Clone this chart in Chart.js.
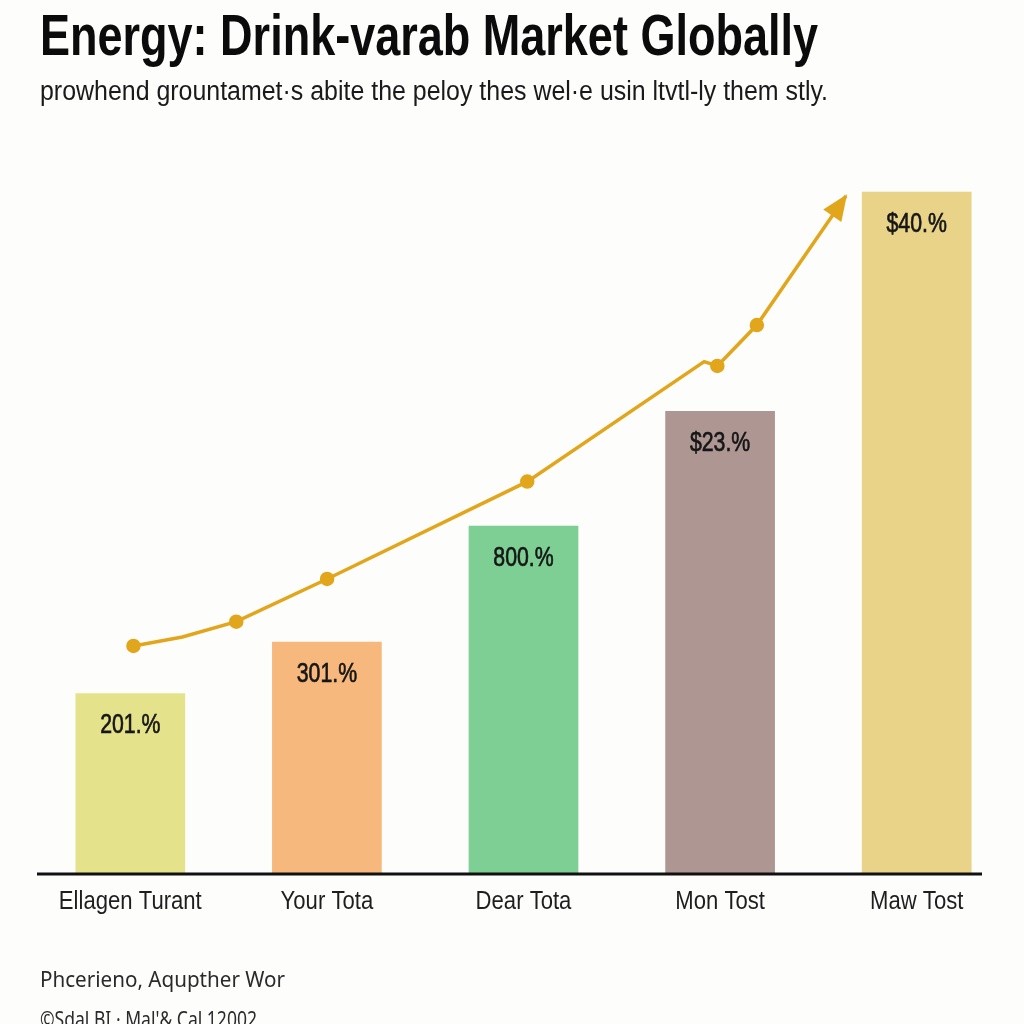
<!DOCTYPE html>
<html><head><meta charset="utf-8">
<script src="https://cdn.jsdelivr.net/npm/chart.js@4.4.1/dist/chart.umd.min.js"></script>
<style>html,body{margin:0;padding:0;background:#fdfdfc}#wrap{width:1024px;height:1024px}</style>
</head><body><div id="wrap"><canvas id="c" width="1024" height="1024"></canvas></div>
<script>
const titleText = 'Energy: Drink-varab Market Globally';
const subtitleText = 'prowhend grountamet\u00b7s abite the peloy thes wel\u00b7e usin ltvtl-ly them stly.';
const footerLines = ['Phcerieno, Aqupther Wor', "\u00a9Sdal BI \u00b7 Mal'& Cal 12002"];
const categories = ['Ellagen Turant', 'Your Tota', 'Dear Tota', 'Mon Tost', 'Maw Tost'];
const barValues = [10.89, 14.02, 21.05, 28.0, 41.29];
const barLabels = ['201.%', '301.%', '800.%', '$23.%', '$40.%'];
const barColors = ['#e4e38b', '#f6b87d', '#7dcf94', '#ae9693', '#e8d388'];
const trendX = [0.016, 0.265, 0.539, 1.001, 2.019, 2.919, 2.986, 3.187, 3.640];
const trendY = [13.76, 14.30, 15.23, 17.82, 23.72, 30.99, 30.73, 33.21, 41.03];
const trendDots = [true, false, true, true, true, false, true, true, false];

const SANS = "'Liberation Sans', Arial, sans-serif";
const LINE_COLOR = '#e2a61c';

function fitText(ctx, text, x, y, font, targetW, color) {
  ctx.save();
  ctx.font = font;
  const w = ctx.measureText(text).width;
  const s = targetW / w;
  ctx.translate(x, y);
  ctx.scale(s, 1);
  ctx.fillStyle = color;
  ctx.textBaseline = 'alphabetic';
  ctx.textAlign = 'left';
  ctx.fillText(text, 0, 0);
  ctx.restore();
}
function squeezedCenter(ctx, text, cx, y, font, sx, color, stroke) {
  ctx.save();
  ctx.font = font;
  ctx.translate(cx, y);
  ctx.scale(sx, 1);
  ctx.fillStyle = color;
  ctx.textAlign = 'center';
  ctx.textBaseline = 'alphabetic';
  ctx.fillText(text, 0, 0);
  if (stroke) {
    ctx.strokeStyle = color;
    ctx.lineWidth = stroke;
    ctx.strokeText(text, 0, 0);
  }
  ctx.restore();
}

const decor = {
  id: 'decor',
  afterDatasetsDraw(chart) {
    const ctx = chart.ctx;
    const area = chart.chartArea;
    const xs = chart.scales.x;
    // axis line
    ctx.save();
    ctx.strokeStyle = '#111';
    ctx.lineWidth = 3;
    ctx.beginPath();
    ctx.moveTo(area.left + 5, area.bottom + 1);
    ctx.lineTo(area.right - 33, area.bottom + 1);
    ctx.stroke();
    ctx.restore();
    // category labels from the x scale
    categories.forEach((c, i) => {
      squeezedCenter(ctx, c, xs.getPixelForTick(i), area.bottom + 36, "26px " + SANS, 0.85, '#1e1e1e', 0);
    });
    // bar value labels
    const bm = chart.getDatasetMeta(0);
    bm.data.forEach((bar, i) => {
      squeezedCenter(ctx, barLabels[i], bar.x, bar.y + 40, "28px " + SANS, 0.76, '#161616', 0.7);
    });
    // arrow head
    const lm = chart.getDatasetMeta(1);
    const n = lm.data.length;
    const tip = lm.data[n - 1], prev = lm.data[n - 2];
    const ang = Math.atan2(tip.y - prev.y, tip.x - prev.x);
    const L = 24, W = 11;
    ctx.save();
    ctx.fillStyle = LINE_COLOR;
    ctx.translate(tip.x, tip.y);
    ctx.rotate(ang);
    ctx.beginPath();
    ctx.moveTo(2, 0);
    ctx.lineTo(-L, -W);
    ctx.lineTo(-L, W);
    ctx.closePath();
    ctx.fill();
    ctx.restore();
  },
  afterDraw(chart) {
    const ctx = chart.ctx;
    fitText(ctx, titleText, 40, 55, "bold 57px " + SANS, 778, '#0b0b0b');
    fitText(ctx, subtitleText, 40, 100, "27px " + SANS, 788, '#1a1a1a');
    fitText(ctx, footerLines[0], 40, 987, "22px 'Noto Sans', 'Open Sans', sans-serif", 245, '#2a2a2a');
    fitText(ctx, footerLines[1], 40, 1027, "21px 'Noto Sans', 'Open Sans', sans-serif", 217, '#2a2a2a');
  }
};

new Chart(document.getElementById('c'), {
  type: 'bar',
  data: {
    labels: categories,
    datasets: [
      {
        type: 'bar',
        data: barValues,
        backgroundColor: barColors,
        categoryPercentage: 1,
        barPercentage: 0.558,
        grouped: false,
        order: 1
      },
      {
        type: 'line',
        xAxisID: 'x2',
        data: trendX.map((x, i) => ({ x: x, y: trendY[i] })),
        borderColor: LINE_COLOR,
        borderWidth: 3.5,
        backgroundColor: LINE_COLOR,
        pointBackgroundColor: LINE_COLOR,
        pointBorderColor: LINE_COLOR,
        pointRadius: trendDots.map(d => d ? 5.5 : 0),
        tension: 0,
        fill: false,
        order: 0
      }
    ]
  },
  options: {
    responsive: false,
    animation: false,
    layout: { padding: { top: 180, left: 32, right: 6, bottom: 151 } },
    plugins: { legend: { display: false }, tooltip: { enabled: false }, title: { display: false } },
    scales: {
      x: {
        type: 'category',
        offset: true,
        grid: { display: false, drawTicks: false },
        border: { display: false },
        ticks: { display: false }
      },
      x2: { type: 'linear', min: -0.5, max: 4.5, offset: false, display: false },
      y: { min: 0, max: 42, display: false }
    }
  },
  plugins: [decor]
});
</script>
</body></html>
